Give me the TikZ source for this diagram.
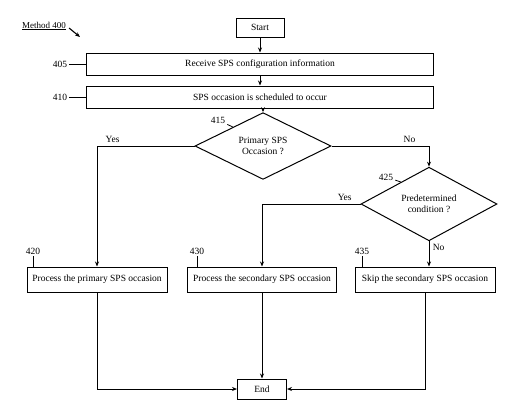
\documentclass[tikz,border=0pt]{standalone}
\usepackage{fontspec}
\setmainfont{Liberation Serif}
\usetikzlibrary{shapes.geometric,arrows.meta,positioning,calc}

\begin{document}
\begin{tikzpicture}[
    x=1pt,y=-1pt,
    font=\fontsize{9.5}{11.5}\selectfont,
    block/.style={draw,line width=1pt,minimum height=22pt,align=center,inner sep=2pt},
    decision/.style={draw,diamond,line width=1pt,minimum width=136pt,minimum height=52pt,inner sep=0pt,align=center},
    refnum/.style={inner sep=2pt},
    >={Stealth[length=5pt,width=4pt]},
    link/.style={->,line width=0.9pt},
]
    \useasboundingbox (0,0) rectangle (531,413);

    \node[inner sep=1pt,font=\fontsize{9}{11}\selectfont] (meth) at (44,26) {\underline{Method 400}};
    \coordinate (methtip) at (80,37);
    \draw[->,line width=1.1pt] ($(meth.east)+(2,2)$) -- (methtip);

    \node[block,minimum width=48pt,minimum height=19pt] (start) at (260,27.5) {Start};
    \node[block,minimum width=347pt] (recv) at (260,64) {Receive SPS configuration information};
    \node[block,minimum width=347pt] (sched) at (260,97) {SPS occasion is scheduled to occur};
    \node[decision] (prim) at (263,146) {Primary SPS\\Occasion ?};
    \node[decision] (cond) at (429,204) {Predetermined\\condition ?};

    \node[block,minimum width=140pt,minimum height=25pt] (procprim) at (97,279.5) {Process the primary SPS occasion};
    \node[block,minimum width=149pt,minimum height=25pt] (procsec) at (262,279.5) {Process the secondary SPS occasion};
    \node[block,minimum width=140pt,minimum height=25pt] (skipsec) at (425,279.5) {Skip the secondary SPS occasion};
    \node[block,minimum width=49pt,minimum height=20pt] (end) at (262,389) {End};

    % reference numerals
    \node[refnum] (n405) at (60,64) {405};
    \node[refnum] (n410) at (60,97) {410};
    \node[refnum] (n415) at (218,120) {415};
    \node[refnum] (n425) at (386,177) {425};
    \node[refnum] (n420) at (33,251) {420};
    \node[refnum] (n430) at (197,251) {430};
    \node[refnum] (n435) at (362,251) {435};
    \draw[line width=0.9pt] (n405) -- (recv);
    \draw[line width=0.9pt] (n410) -- (sched);
    \draw[line width=0.8pt] (n415) -- ($(prim.north)!0.44!(prim.west)$);
    \draw[line width=0.8pt] (n425) -- ($(cond.north)!0.41!(cond.west)$);
    \draw[line width=0.9pt] (n420) -- (n420 |- procprim.north);
    \draw[line width=0.9pt] (n430) -- (n430 |- procsec.north);
    \draw[line width=0.9pt] (n435) -- (n435 |- skipsec.north);

    % flow
    \draw[link] (start) -- (recv);
    \draw[link] (recv) -- (sched);
    \draw[link] (sched.south -| prim.north) -- (prim.north);
    \draw[link] (prim.west) -| node[pos=0.42,above] {Yes} (procprim.north);
    \draw[link] (prim.east) -| node[pos=0.4,above] {No} (cond.north);
    \draw[link] (cond.west) -| node[pos=0.08,above] {Yes} (procsec.north);
    \draw[link] (cond.south) -- node[pos=0.25,right] {No} (cond.south |- skipsec.north);
    \draw[link] (procprim.south) |- (end.west);
    \draw[link] (procsec.south) -- (end.north);
    \draw[link] (skipsec.south) |- (end.east);
\end{tikzpicture}
\end{document}
